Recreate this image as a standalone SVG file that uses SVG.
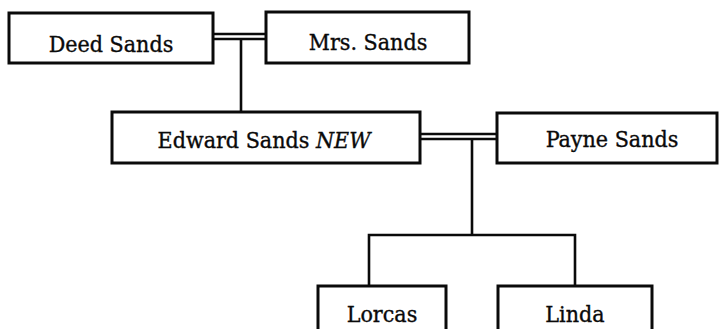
<svg xmlns="http://www.w3.org/2000/svg" width="719" height="329" viewBox="0 0 719 329">
  <style>
    .box { fill: #ffffff; stroke: #0a0a0a; stroke-width: 3; }
    .line { fill: none; stroke: #0a0a0a; stroke-width: 2.6; }
    .label { font-family: "DejaVu Serif Condensed", "DejaVu Serif", "Liberation Serif", serif; font-stretch: condensed; font-size: 23px; fill: #0a0a0a; stroke: #0a0a0a; stroke-width: 0.35; text-anchor: middle; }
    .em { font-style: italic; }
  </style>
  <rect width="719" height="329" fill="#ffffff"/>

  <g id="connectors">
    <!-- marriage: Deed Sands = Mrs. Sands -->
    <line class="line" x1="213" y1="34" x2="266" y2="34"/>
    <line class="line" x1="213" y1="39" x2="266" y2="39"/>
    <line class="line" x1="241" y1="39" x2="241" y2="112"/>
    <!-- marriage: Edward Sands = Payne Sands -->
    <line class="line" x1="420" y1="134" x2="497" y2="134"/>
    <line class="line" x1="420" y1="139" x2="497" y2="139"/>
    <line class="line" x1="472" y1="139" x2="472" y2="235"/>
    <!-- children bar -->
    <polyline class="line" points="369,286 369,235 575,235 575,286"/>
  </g>

  <g id="deed-sands">
    <rect class="box" x="9" y="13" width="204" height="50"/>
    <text class="label" x="111" y="52">Deed Sands</text>
  </g>

  <g id="mrs-sands">
    <rect class="box" x="266" y="12" width="203" height="51"/>
    <text class="label" x="368" y="50">Mrs. Sands</text>
  </g>

  <g id="edward-sands">
    <rect class="box" x="112" y="112" width="308" height="51"/>
    <text class="label" x="264" y="148">Edward Sands <tspan class="em">NEW</tspan></text>
  </g>

  <g id="payne-sands">
    <rect class="box" x="497" y="113" width="220" height="50"/>
    <text class="label" x="612" y="147">Payne Sands</text>
  </g>

  <g id="lorcas">
    <rect class="box" x="318" y="286" width="128" height="60"/>
    <text class="label" x="382" y="322">Lorcas</text>
  </g>

  <g id="linda">
    <rect class="box" x="498" y="286" width="154" height="60"/>
    <text class="label" x="575" y="322">Linda</text>
  </g>
</svg>
